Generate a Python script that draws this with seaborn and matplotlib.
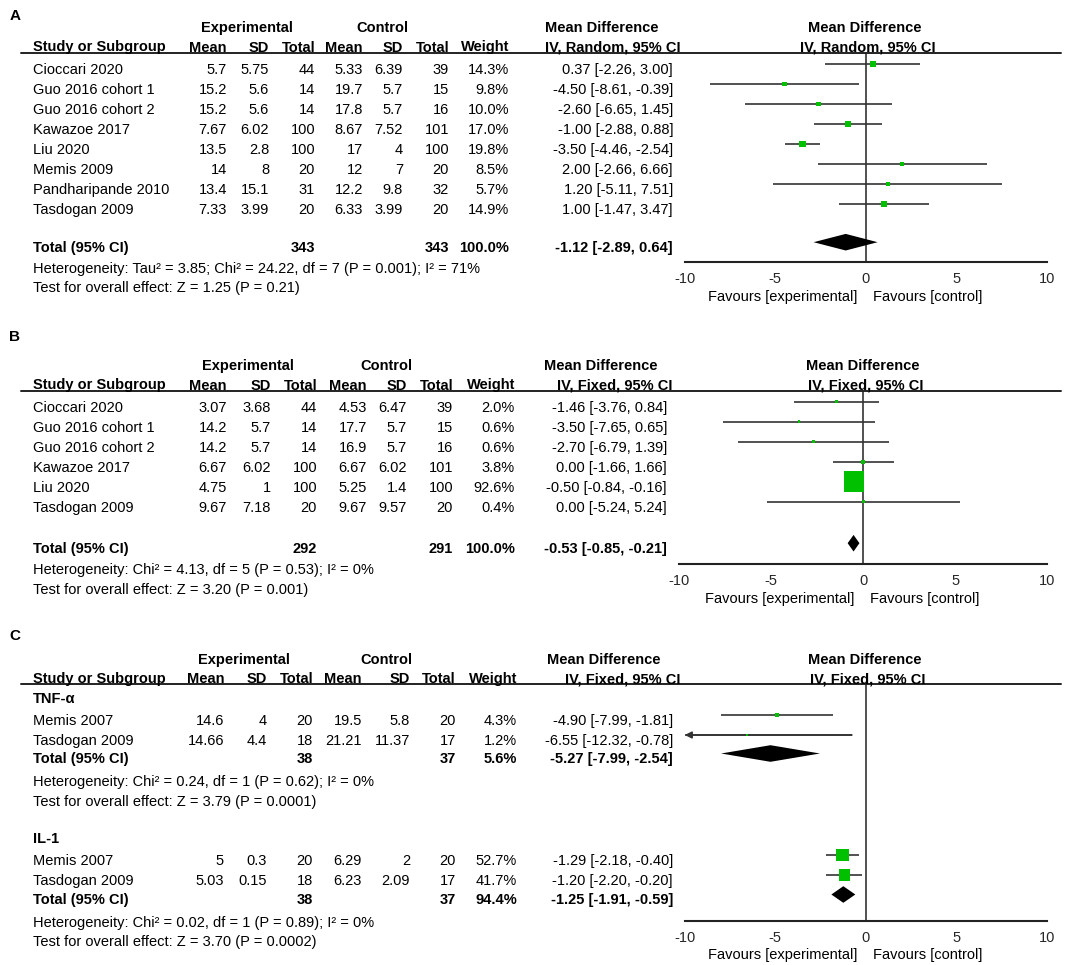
import numpy as np
import pandas as pd
import matplotlib
matplotlib.use("Agg")
import matplotlib.pyplot as plt
from matplotlib.lines import Line2D
import seaborn as sns

# ---- Panel A data (IV, Random) ----
studies_a = ["Cioccari 2020", "Guo 2016 cohort 1", "Guo 2016 cohort 2", "Kawazoe 2017",
             "Liu 2020", "Memis 2009", "Pandharipande 2010", "Tasdogan 2009"]
exp_mean_a = ["5.7", "15.2", "15.2", "7.67", "13.5", "14", "13.4", "7.33"]
exp_sd_a = ["5.75", "5.6", "5.6", "6.02", "2.8", "8", "15.1", "3.99"]
exp_n_a = [44, 14, 14, 100, 100, 20, 31, 20]
ctl_mean_a = ["5.33", "19.7", "17.8", "8.67", "17", "12", "12.2", "6.33"]
ctl_sd_a = ["6.39", "5.7", "5.7", "7.52", "4", "7", "9.8", "3.99"]
ctl_n_a = [39, 15, 16, 101, 100, 20, 32, 20]
weight_a = [14.3, 9.8, 10.0, 17.0, 19.8, 8.5, 5.7, 14.9]
md_a = [0.37, -4.50, -2.60, -1.00, -3.50, 2.00, 1.20, 1.00]
lo_a = [-2.26, -8.61, -6.65, -2.88, -4.46, -2.66, -5.11, -1.47]
hi_a = [3.00, -0.39, 1.45, 0.88, -2.54, 6.66, 7.51, 3.47]
total_a = {"exp_n": 343, "ctl_n": 343, "weight": 100.0, "md": -1.12, "lo": -2.89, "hi": 0.64}
het_a = "Heterogeneity: Tau\u00b2 = 3.85; Chi\u00b2 = 24.22, df = 7 (P = 0.001); I\u00b2 = 71%"
test_a = "Test for overall effect: Z = 1.25 (P = 0.21)"

# ---- Panel B data (IV, Fixed) ----
studies_b = ["Cioccari 2020", "Guo 2016 cohort 1", "Guo 2016 cohort 2", "Kawazoe 2017",
             "Liu 2020", "Tasdogan 2009"]
exp_mean_b = ["3.07", "14.2", "14.2", "6.67", "4.75", "9.67"]
exp_sd_b = ["3.68", "5.7", "5.7", "6.02", "1", "7.18"]
exp_n_b = [44, 14, 14, 100, 100, 20]
ctl_mean_b = ["4.53", "17.7", "16.9", "6.67", "5.25", "9.67"]
ctl_sd_b = ["6.47", "5.7", "5.7", "6.02", "1.4", "9.57"]
ctl_n_b = [39, 15, 16, 101, 100, 20]
weight_b = [2.0, 0.6, 0.6, 3.8, 92.6, 0.4]
md_b = [-1.46, -3.50, -2.70, 0.00, -0.50, 0.00]
lo_b = [-3.76, -7.65, -6.79, -1.66, -0.84, -5.24]
hi_b = [0.84, 0.65, 1.39, 1.66, -0.16, 5.24]
total_b = {"exp_n": 292, "ctl_n": 291, "weight": 100.0, "md": -0.53, "lo": -0.85, "hi": -0.21}
het_b = "Heterogeneity: Chi\u00b2 = 4.13, df = 5 (P = 0.53); I\u00b2 = 0%"
test_b = "Test for overall effect: Z = 3.20 (P = 0.001)"

# ---- Panel C data (subgroups, IV, Fixed) ----
studies_c1 = ["Memis 2007", "Tasdogan 2009"]
exp_mean_c1 = ["14.6", "14.66"]
exp_sd_c1 = ["4", "4.4"]
exp_n_c1 = [20, 18]
ctl_mean_c1 = ["19.5", "21.21"]
ctl_sd_c1 = ["5.8", "11.37"]
ctl_n_c1 = [20, 17]
weight_c1 = [4.3, 1.2]
md_c1 = [-4.90, -6.55]
lo_c1 = [-7.99, -12.32]
hi_c1 = [-1.81, -0.78]
total_c1 = {"exp_n": 38, "ctl_n": 37, "weight": 5.6, "md": -5.27, "lo": -7.99, "hi": -2.54}
het_c1 = "Heterogeneity: Chi\u00b2 = 0.24, df = 1 (P = 0.62); I\u00b2 = 0%"
test_c1 = "Test for overall effect: Z = 3.79 (P = 0.0001)"

studies_c2 = ["Memis 2007", "Tasdogan 2009"]
exp_mean_c2 = ["5", "5.03"]
exp_sd_c2 = ["0.3", "0.15"]
exp_n_c2 = [20, 18]
ctl_mean_c2 = ["6.29", "6.23"]
ctl_sd_c2 = ["2", "2.09"]
ctl_n_c2 = [20, 17]
weight_c2 = [52.7, 41.7]
md_c2 = [-1.29, -1.20]
lo_c2 = [-2.18, -2.20]
hi_c2 = [-0.40, -0.20]
total_c2 = {"exp_n": 38, "ctl_n": 37, "weight": 94.4, "md": -1.25, "lo": -1.91, "hi": -0.59}
het_c2 = "Heterogeneity: Chi\u00b2 = 0.02, df = 1 (P = 0.89); I\u00b2 = 0%"
test_c2 = "Test for overall effect: Z = 3.70 (P = 0.0002)"

x_ticks = [-10, -5, 0, 5, 10]

W, H = 1084, 965
FS = 10.5
GREEN = "#00c000"
LINE = "#333333"

def make_group(studies, em, esd, en, cm, csd, cn, w, md, lo, hi):
    return pd.DataFrame({"study": studies, "exp_mean": em, "exp_sd": esd, "exp_n": en,
                         "ctl_mean": cm, "ctl_sd": csd, "ctl_n": cn, "weight": w,
                         "md": md, "lo": lo, "hi": hi})

def ci_text(md, lo, hi):
    return f"{md:.2f} [{lo:.2f}, {hi:.2f}]"

def put(fig, x, y, s, ha="left", bold=False, size=FS):
    """Place text using pixel coordinates (origin top-left, baseline at y)."""
    fig.text(x / W, 1 - y / H, s, ha=ha, va="baseline", fontsize=size,
             fontweight="bold" if bold else "normal", color="black")

def draw_header(fig, lay, method):
    cols = lay["cols"]
    put(fig, 9.5, lay["label_y"], lay["label"], bold=True, size=11)
    put(fig, cols[0] + 20 if False else lay["exp_c"], lay["grp_y"], "Experimental", ha="center", bold=True)
    put(fig, lay["ctl_c"], lay["grp_y"], "Control", ha="center", bold=True)
    put(fig, 33, lay["col_y"], "Study or Subgroup", bold=True)
    for x, name in zip(cols, ["Mean", "SD", "Total", "Mean", "SD", "Total", "Weight"]):
        put(fig, x, lay["col_y"], name, ha="right", bold=True)
    put(fig, lay["md_l"][0], lay["grp_y"], "Mean Difference", bold=True)
    put(fig, lay["md_l"][1], lay["col_y"], f"IV, {method}, 95% CI", bold=True)
    put(fig, lay["plot_c"][0], lay["grp_y"], "Mean Difference", ha="center", bold=True)
    put(fig, lay["plot_c"][1], lay["col_y"], f"IV, {method}, 95% CI", ha="center", bold=True)
    fig.add_artist(Line2D([21 / W, 1061 / W], [1 - lay["rule"] / H] * 2,
                          transform=fig.transFigure, color="#222222", lw=1.4))

def draw_rows(fig, ax, df, y0, lay, k):
    """Table rows plus CI lines and weighted squares."""
    cols = lay["cols"]
    ys = y0 + 20 * np.arange(len(df))
    for yb, r in zip(ys, df.itertuples()):
        put(fig, 33, yb, r.study)
        vals = [r.exp_mean, r.exp_sd, str(r.exp_n), r.ctl_mean, r.ctl_sd, str(r.ctl_n),
                f"{r.weight:.1f}%"]
        for x, v in zip(cols, vals):
            put(fig, x, yb, v, ha="right")
        put(fig, lay["ci_r"], yb, ci_text(r.md, r.lo, r.hi), ha="right")
    ym = ys - 10
    lo = np.clip(df["lo"].to_numpy(), x_ticks[0], x_ticks[-1])
    hi = np.clip(df["hi"].to_numpy(), x_ticks[0], x_ticks[-1])
    ax.hlines(ym, lo, hi, color=LINE, lw=1.2, zorder=2)
    for y, l, h in zip(ym, df["lo"], df["hi"]):
        if l < x_ticks[0]:
            ax.annotate("", xy=(x_ticks[0], y), xytext=(h, y),
                        arrowprops=dict(arrowstyle="-|>", color=LINE, lw=1.2,
                                        mutation_scale=10, shrinkA=0, shrinkB=0))
    side_px = np.maximum(k * np.sqrt(df["weight"].to_numpy()), 2.5)
    sizes = (side_px * 72 / 100) ** 2
    sns.scatterplot(x=df["md"].to_numpy(), y=ym, s=sizes, marker="s", color=GREEN,
                    linewidth=0, ax=ax, zorder=3, legend=False)

def draw_total(fig, ax, tot, yb, lay):
    cols = lay["cols"]
    put(fig, 33, yb, "Total (95% CI)", bold=True)
    put(fig, cols[2], yb, str(tot["exp_n"]), ha="right", bold=True)
    put(fig, cols[5], yb, str(tot["ctl_n"]), ha="right", bold=True)
    put(fig, cols[6], yb, f"{tot['weight']:.1f}%", ha="right", bold=True)
    put(fig, lay["ci_r"], yb, ci_text(tot["md"], tot["lo"], tot["hi"]), ha="right", bold=True)
    y = yb - 9.5
    h = 8.3
    ax.fill([tot["lo"], tot["md"], tot["hi"], tot["md"]], [y, y - h, y, y + h],
            color="black", lw=0, zorder=3)

def make_axes(fig, lay):
    x0, x1 = lay["ax_x"]
    ax = fig.add_axes([x0 / W, 1 - lay["axis"] / H, (x1 - x0) / W, (lay["axis"] - lay["rule"]) / H])
    ax.set_xlim(x_ticks[0], x_ticks[-1])
    ax.set_ylim(lay["axis"], lay["rule"])
    ax.patch.set_alpha(0)
    for s in ["top", "left", "right"]:
        ax.spines[s].set_visible(False)
    ax.spines["bottom"].set_linewidth(1.5)
    ax.spines["bottom"].set_color("#222222")
    ax.set_yticks([])
    ax.set_xticks(x_ticks)
    ax.set_xticklabels([str(t) for t in x_ticks])
    ax.tick_params(axis="x", direction="inout", length=9, width=1.5, color="#222222",
                   labelsize=FS, pad=2.5)
    ax.axvline(0, color=LINE, lw=1.2, zorder=1)
    return ax

def draw_footer(fig, lay):
    put(fig, lay["fav"][0], lay["fav_y"], "Favours [experimental]", ha="right")
    put(fig, lay["fav"][1], lay["fav_y"], "Favours [control]")

def main():
    sns.set_theme(style="white")
    plt.rcParams["font.family"] = ["Liberation Sans", "DejaVu Sans"]
    plt.rcParams["axes.unicode_minus"] = False
    fig = plt.figure(figsize=(W / 100, H / 100), dpi=100)
    fig.patch.set_facecolor("white")

    # Panel A
    lay_a = dict(label="A", label_y=20, grp_y=32.3, col_y=51.5, rule=52.7, axis=262,
                 cols=[227, 269, 315, 363, 403, 449, 509], ci_r=673, exp_c=247, ctl_c=382,
                 md_l=(545, 545), plot_c=(865, 868), ax_x=(684.7, 1047.3),
                 fav=(857, 873), fav_y=301)
    draw_header(fig, lay_a, "Random")
    ax = make_axes(fig, lay_a)
    df_a = make_group(studies_a, exp_mean_a, exp_sd_a, exp_n_a, ctl_mean_a, ctl_sd_a,
                      ctl_n_a, weight_a, md_a, lo_a, hi_a)
    draw_rows(fig, ax, df_a, 74, lay_a, 1.5)
    draw_total(fig, ax, total_a, 251.7, lay_a)
    put(fig, 33, 273, het_a)
    put(fig, 33, 292, test_a)
    draw_footer(fig, lay_a)

    # Panel B
    lay_b = dict(label="B", label_y=341, grp_y=370, col_y=389.5, rule=390.7, axis=564,
                 cols=[227, 271, 317, 367, 407, 453, 515], ci_r=667, exp_c=247.5, ctl_c=386,
                 md_l=(544, 557), plot_c=(863, 866), ax_x=(679.3, 1047.3),
                 fav=(854, 870), fav_y=603)
    draw_header(fig, lay_b, "Fixed")
    ax = make_axes(fig, lay_b)
    df_b = make_group(studies_b, exp_mean_b, exp_sd_b, exp_n_b, ctl_mean_b, ctl_sd_b,
                      ctl_n_b, weight_b, md_b, lo_b, hi_b)
    draw_rows(fig, ax, df_b, 411.7, lay_b, 2.13)
    draw_total(fig, ax, total_b, 552.7, lay_b)
    put(fig, 33, 574, het_b)
    put(fig, 33, 594, test_b)
    draw_footer(fig, lay_b)

    # Panel C
    lay_c = dict(label="C", label_y=640, grp_y=664, col_y=683, rule=684, axis=921,
                 cols=[224, 267, 313, 362, 410, 456, 517], ci_r=673, exp_c=244, ctl_c=386,
                 md_l=(547, 565), plot_c=(865, 868), ax_x=(684.7, 1047.3),
                 fav=(857, 873), fav_y=959)
    draw_header(fig, lay_c, "Fixed")
    ax = make_axes(fig, lay_c)
    put(fig, 33, 703, "TNF-\u03b1", bold=True)
    df_c1 = make_group(studies_c1, exp_mean_c1, exp_sd_c1, exp_n_c1, ctl_mean_c1, ctl_sd_c1,
                       ctl_n_c1, weight_c1, md_c1, lo_c1, hi_c1)
    draw_rows(fig, ax, df_c1, 725, lay_c, 1.75)
    draw_total(fig, ax, total_c1, 763, lay_c)
    put(fig, 33, 786, het_c1)
    put(fig, 33, 806, test_c1)
    put(fig, 33, 843, "IL-1", bold=True)
    df_c2 = make_group(studies_c2, exp_mean_c2, exp_sd_c2, exp_n_c2, ctl_mean_c2, ctl_sd_c2,
                       ctl_n_c2, weight_c2, md_c2, lo_c2, hi_c2)
    draw_rows(fig, ax, df_c2, 865, lay_c, 1.75)
    draw_total(fig, ax, total_c2, 904, lay_c)
    put(fig, 33, 927, het_c2)
    put(fig, 33, 946, test_c2)
    draw_footer(fig, lay_c)

    fig.savefig("out.png", dpi=100)

if __name__ == "__main__":
    main()
